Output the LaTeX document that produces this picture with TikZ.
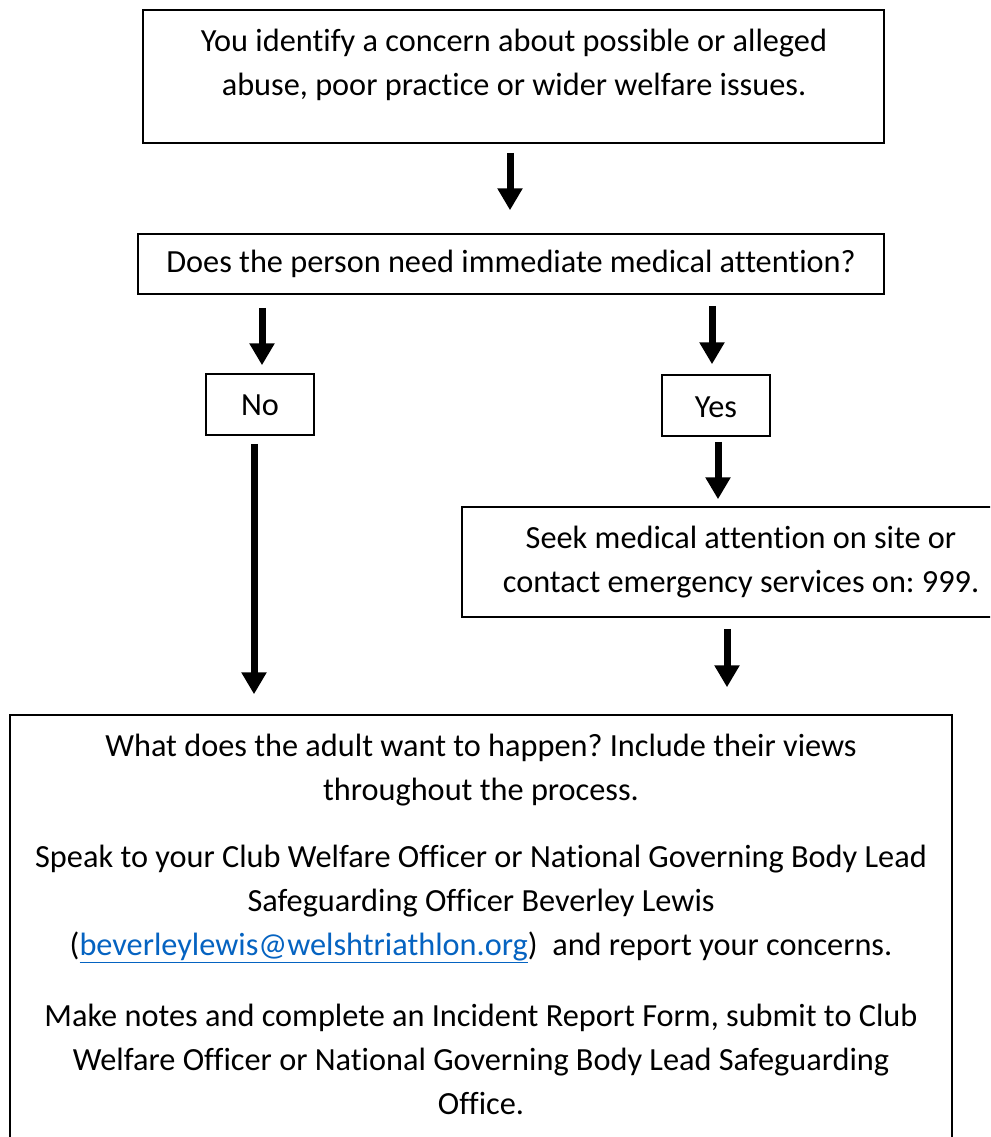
\documentclass[tikz,border=0pt]{standalone}
\usepackage{fontspec}
\setmainfont[Ligatures={NoCommon}]{Carlito}
\frenchspacing
\usetikzlibrary{arrows.meta}
\definecolor{linkblue}{HTML}{0563C1}
\tikzset{
  box/.style={draw=black, line width=1.5pt, inner sep=0pt, fill=none},
  txt/.style={align=center, inner sep=0pt, font=\fontsize{32.3}{44}\selectfont},
  arr/.style={line width=7pt, -{Triangle[length=22pt,width=24pt]}}
}
\begin{document}
\begin{tikzpicture}[x=1pt,y=-1pt]
\useasboundingbox (0,0) rectangle (990,1137);
\clip (0,0) rectangle (990,1137);
% boxes
\node[box, minimum width=741pt, minimum height=133pt] (b1) at (513.5,76.5) {};
\node[box, minimum width=746pt, minimum height=60pt] (b2) at (511,264) {};
\node[box, minimum width=108pt, minimum height=61pt] (no) at (260,404.5) {};
\node[box, minimum width=108pt, minimum height=61pt] (yes) at (716,405.5) {};
\node[box, minimum width=558pt, minimum height=110pt] (seek) at (741,562) {};
\node[box, minimum width=942pt, minimum height=435pt] (bot) at (481,932.5) {};
% texts
\node[txt] (t1) at (514,64.5) {You identify a concern about possible or alleged\\abuse, poor practice or wider welfare issues.};
\node[txt] (t2) at (511,264) {Does the person need immediate medical attention?};
\node[txt] (tno) at (260,405) {No};
\node[txt] (tyes) at (716,407) {Yes};
\node[txt] (tseek) at (741,562) {Seek medical attention on site or\\contact emergency services on: 999.};
\node[txt] (tp1) at (481,770.5) {What does the adult want to happen? Include their views\\throughout the process.};
\node[txt] (tp2) at (481,904) {Speak to your Club Welfare Officer or National Governing Body Lead\\Safeguarding Officer Beverley Lewis\\(\textcolor{linkblue}{\underline{beverleylewis@welshtriathlon.org}})\ \ and report your concerns.};
\node[txt] (tp3) at (481,1059) {Make notes and complete an Incident Report Form, submit to Club\\Welfare Officer or National Governing Body Lead Safeguarding\\Office.};
% arrows
\draw[arr] ([xshift=-3.5pt,yshift=-9pt]b1.south) -- ([xshift=-1pt,yshift=23pt]b2.north);
\draw[arr] ([xshift=2pt,yshift=-13pt]b2.south -| no.north) -- ([xshift=2pt,yshift=8pt]no.north);
\draw[arr] ([xshift=-4pt,yshift=-11pt]b2.south -| yes.north) -- ([xshift=-4pt,yshift=10pt]yes.north);
\draw[arr] ([xshift=2pt,yshift=-5pt]yes.south) -- ([xshift=2pt,yshift=7pt]yes.south |- seek.north);
\draw[arr] ([xshift=-14pt,yshift=-11pt]seek.south) -- ([xshift=-14pt,yshift=27pt]seek.south |- bot.north);
\draw[arr] ([xshift=-6pt,yshift=-8pt]no.south) -- ([xshift=-6pt,yshift=20pt]no.south |- bot.north);
\end{tikzpicture}
\end{document}
